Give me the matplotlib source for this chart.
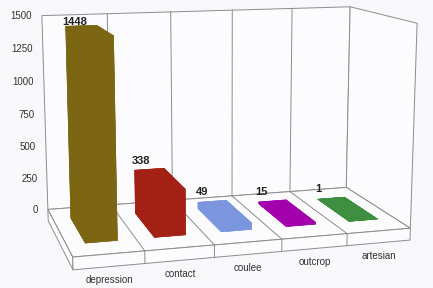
import matplotlib
matplotlib.use("Agg")
import matplotlib.pyplot as plt
from mpl_toolkits.mplot3d import proj3d
from mpl_toolkits.mplot3d.art3d import Poly3DCollection

categories = ['depression', 'contact', 'coulee', 'outcrop', 'artesian']
counts = [1448, 338, 49, 15, 1]
bar_colors = ['#7c6614', '#a32114', '#7b96de', '#a300ad', '#3f8f40']
zticks = [0, 250, 500, 750, 1000, 1250, 1500]

plt.rcParams['font.family'] = ['Liberation Sans', 'DejaVu Sans']

n = len(categories)
depth = 1.0
slab = 90
zmax = 1500
bg = '#f8f8fb'
line_kw = dict(color='#8c8c8c', lw=0.7, clip_on=False)

fig = plt.figure(figsize=(4.33, 2.88), dpi=100)
fig.patch.set_facecolor(bg)
ax = fig.add_axes([0.0063, -0.0559, 1.0, 1.2], projection='3d')
ax.set_facecolor('none')
ax.set_proj_type('persp', focal_length=0.623)
ax.view_init(elev=11.4, azim=-106.05)
ax.set_axis_off()
ax.computed_zorder = False
ax.set_xlim(0, n)
ax.set_ylim(0, depth)
ax.set_zlim(-slab, zmax)
ax.set_box_aspect((5, 2.517, 3.213), zoom=1.213)

# walls and floor slab
back = [(0, depth, 0), (n, depth, 0), (n, depth, zmax), (0, depth, zmax)]
right = [(n, 0, 0), (n, depth, 0), (n, depth, zmax), (n, 0, zmax)]
floor = [(0, 0, 0), (n, 0, 0), (n, depth, 0), (0, depth, 0)]
front = [(0, 0, -slab), (n, 0, -slab), (n, 0, 0), (0, 0, 0)]
left = [(0, 0, -slab), (0, depth, -slab), (0, depth, 0), (0, 0, 0)]
walls = Poly3DCollection([back, right, left, front, floor], facecolor='#fcfcfe',
                         edgecolor='#8c8c8c', linewidths=0.7, zorder=1)
walls.set_clip_on(False)
ax.add_collection3d(walls)

# category dividers on back wall, floor and slab front
for i in range(1, n):
    ax.plot([i, i], [depth, depth], [0, zmax], zorder=2, **line_kw)
    ax.plot([i, i], [0, depth], [0, 0], zorder=2, **line_kw)
    ax.plot([i, i], [0, 0], [-slab, 0], zorder=2, **line_kw)

# bars
bw, bd = 0.46, 0.53
y0 = (depth - bd) / 2
for i, (v, c) in enumerate(zip(counts, bar_colors)):
    bars = ax.bar3d(i + (1 - bw) / 2, y0, 0, bw, bd, v, color=c,
                    edgecolor=c, linewidth=0.4, shade=False, zorder=3 + i)
    bars.set_clip_on(False)


def to2d(x, y, z):
    px, py, _ = proj3d.proj_transform(x, y, z, ax.get_proj())
    return px, py


# value labels, anchored on the back wall
for i, v in enumerate(counts):
    px, py = to2d(i + 0.5, depth, v)
    ax.text2D(px, py, str(v), transform=ax.transData, ha='center', va='center',
              fontsize=8, fontweight='bold', color='#222222', zorder=10,
              clip_on=False)

# value axis labels
for t in zticks:
    px, py = to2d(-0.15, depth, t)
    ax.text2D(px, py, str(t), transform=ax.transData, ha='right', va='center',
              fontsize=7, color='#333333', zorder=10, clip_on=False)

# category labels
for i, name in enumerate(categories):
    px, py = to2d(i + 0.5, 0, -slab - 62)
    ax.text2D(px, py, name, transform=ax.transData, ha='center', va='top',
              fontsize=7, color='#333333', zorder=10, clip_on=False)

fig.savefig('out.png', dpi=100, facecolor=fig.get_facecolor())
